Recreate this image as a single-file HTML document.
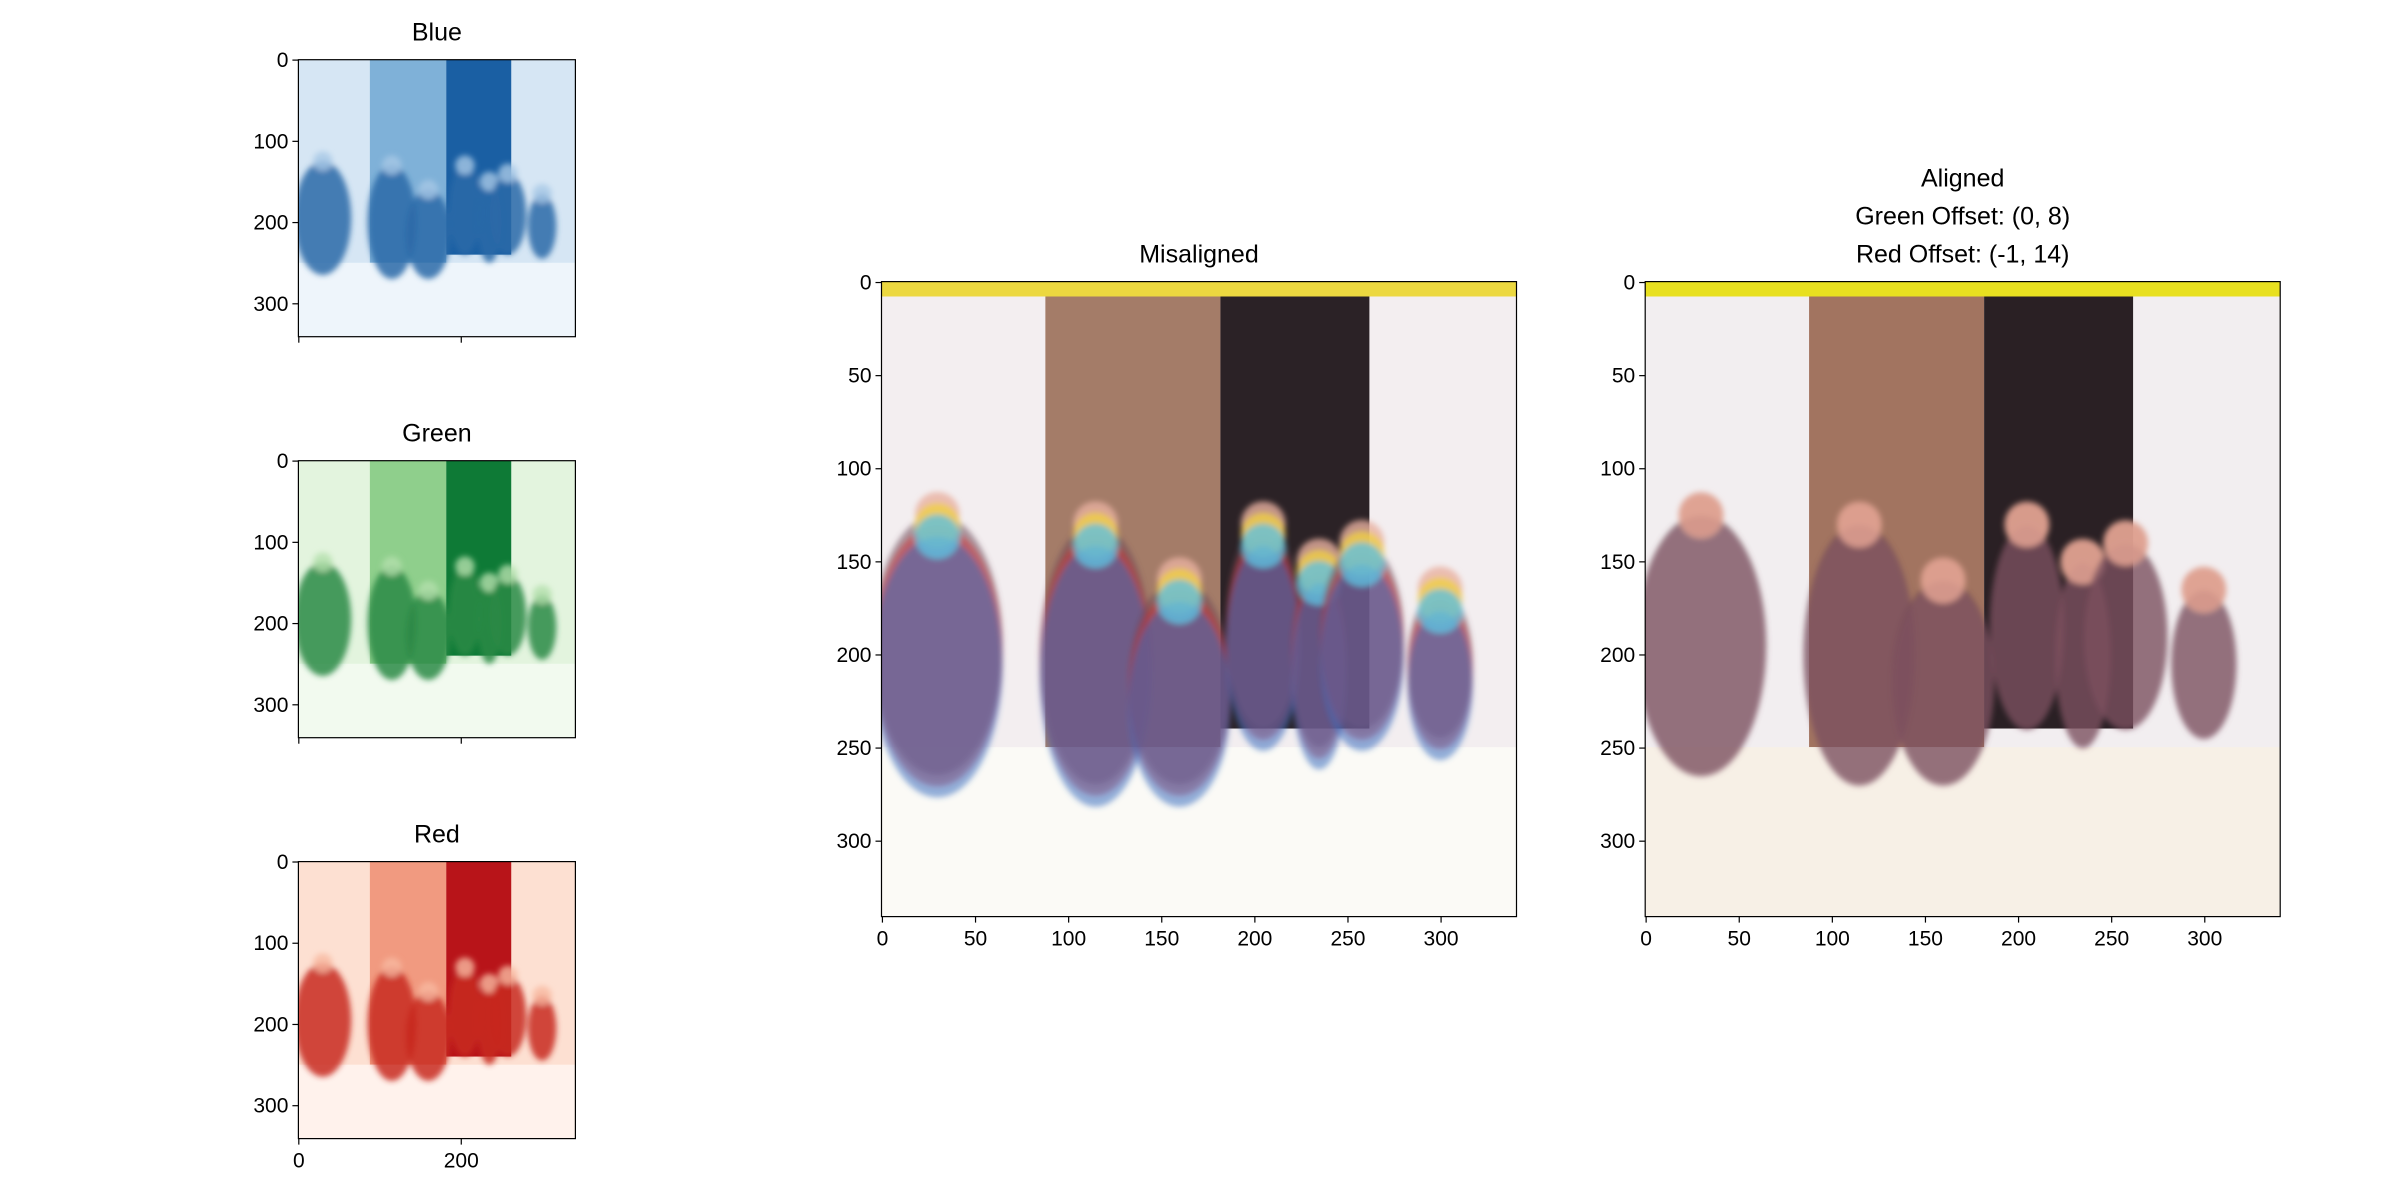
<!DOCTYPE html>
<html><head><meta charset="utf-8"><style>
body{margin:0;background:#fff;}
svg{display:block;font-family:"Liberation Sans","DejaVu Sans",sans-serif;}
</style></head><body>
<svg id="fig" width="2400" height="1200" viewBox="0 0 2400 1200">
<defs>
<filter id="blur" x="-20%" y="-20%" width="140%" height="140%"><feGaussianBlur stdDeviation="3"/></filter>
</defs>
<rect width="2400" height="1200" fill="#fff"/>
</svg>
<script>
const NS='http://www.w3.org/2000/svg';
const svg=document.getElementById('fig');
const defs=svg.querySelector('defs');
const imgSize=[341,341];
const smallTicksY=[0,100,200,300];
const smallTicksX=[0,200];
const bigTicks=[0,50,100,150,200,250,300];
const panelTitles=['Blue','Green','Red','Misaligned','Aligned\nGreen Offset: (0, 8)\nRed Offset: (-1, 14)'];
// people: [cx, cy(top), w, h] in image coords
const people=[[30,125,70,140],[115,130,60,140],[160,160,55,110],[205,130,40,110],[235,150,30,100],[258,140,45,100],[300,165,35,80]];
function el(t,a,p){const e=document.createElementNS(NS,t);for(const k in a)e.setAttribute(k,a[k]);(p||svg).appendChild(e);return e;}
function drawPhoto(g,sx,sy,pal,shift){
  const X=v=>v*sx, Y=v=>v*sy;
  el('rect',{x:0,y:0,width:X(341),height:Y(341),fill:pal.wall},g);
  el('rect',{x:X(88),y:0,width:X(94),height:Y(250),fill:pal.door},g);
  el('rect',{x:X(182),y:0,width:X(80),height:Y(240),fill:pal.dark},g);
  el('rect',{x:0,y:Y(250),width:X(341),height:Y(91),fill:pal.ground},g);
  const grp=el('g',{filter:'url(#blur)'},g);
  people.forEach((p,i)=>{
    pal.people.forEach((c,j)=>{
      const dy=(shift||0)*j;
      el('ellipse',{cx:X(p[0]),cy:Y(p[1]+p[3]/2+dy),rx:X(p[2]/2),ry:Y(p[3]/2),fill:c,opacity:pal.people.length>1?0.55:0.85},grp);
      el('circle',{cx:X(p[0]),cy:Y(p[1]+dy),r:X(12),fill:pal.face[j%pal.face.length],opacity:0.8},grp);
    });
  });
  if(pal.top){el('rect',{x:0,y:0,width:X(341),height:Y(8),fill:pal.top},g);}
}
function axes(name,x0,y0,w,h,yt,xt,xlabels,title,pal,shift){
  const g=el('g',{});
  
  
  const sx=w/imgSize[0], sy=h/imgSize[1];
  const cp=el('clipPath',{id:'clip-'+name},defs);
  el('rect',{x:0,y:0,width:w,height:h},cp);
  const ig=el('g',{transform:`translate(${x0},${y0})`},g);
  const inner=el('g',{'clip-path':`url(#clip-${name})`},ig);
  drawPhoto(inner,sx,sy,pal,shift);
  el('rect',{x:x0,y:y0,width:w,height:h,fill:'none',stroke:'#000','stroke-width':1.2},g);
  const fy=v=>y0+(v+0.5)*sy, fx=v=>x0+(v+0.5)*sx;
  yt.forEach(v=>{
    el('line',{x1:x0,x2:x0-6,y1:fy(v),y2:fy(v),stroke:'#000','stroke-width':1.2},g);
    const l=el('text',{x:x0-10,y:fy(v)+7,'text-anchor':'end','font-size':21},g);l.textContent=v;
    
  });
  xt.forEach(v=>{
    el('line',{x1:fx(v),x2:fx(v),y1:y0+h,y2:y0+h+6,stroke:'#000','stroke-width':1.2},g);
    if(xlabels){const l=el('text',{x:fx(v),y:y0+h+29,'text-anchor':'middle','font-size':21},g);l.textContent=v;
      }
  });
  const lines=title.split('\n');
  lines.forEach((s,i)=>{
    const t=el('text',{x:x0+w/2,y:y0-19-(lines.length-1-i)*38,'text-anchor':'middle','font-size':25},g);
    t.textContent=s;
    
  });
}
const blue={wall:'#d6e6f4',door:'#7fb1d8',dark:'#1a5fa3',ground:'#eef5fb',people:['#2a6aa8'],face:['#a8c8e6']};
const green={wall:'#e3f4de',door:'#8fcf8c',dark:'#0e7a36',ground:'#f2faef',people:['#2c8a45'],face:['#b4e0ac']};
const red={wall:'#fde0d2',door:'#f19a80',dark:'#b81419',ground:'#fff2ec',people:['#c8281e'],face:['#f8b9a0']};
const mis={wall:'#f3eef0',door:'#a47c68',dark:'#2b2226',ground:'#fbfaf6',people:['#6a4858','#d03030','#3b70c0'],face:['#e8b0a0','#f0d040','#60c0e0'],top:'#ecd840'};
const ali={wall:'#f2eef0',door:'#a27460',dark:'#2a2024',ground:'#f7f0e6',people:['#5a3a3c','#8a5a70'],face:['#dfa090'],top:'#e8e020'};
axes('blue-panel',298.4,59.7,277,277,smallTicksY,smallTicksX,false,panelTitles[0],blue);
axes('green-panel',298.4,460.7,277,277,smallTicksY,smallTicksX,false,panelTitles[1],green);
axes('red-panel',298.4,861.6,277,277,smallTicksY,smallTicksX,true,panelTitles[2],red);
axes('misaligned-panel',881.5,281.6,635,635,bigTicks,bigTicks,true,panelTitles[3],mis,6);
axes('aligned-panel',1645.2,281.6,635,635,bigTicks,bigTicks,true,panelTitles[4],ali,1);
</script>
</body></html>
